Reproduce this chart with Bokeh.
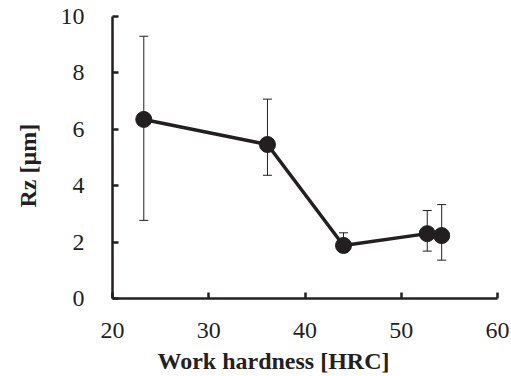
from bokeh.plotting import figure
from bokeh.models import ColumnDataSource, Whisker, TeeHead, Title, Range1d, FixedTicker
from bokeh.embed import file_html
from bokeh.resources import INLINE

hardness = [23.25, 36.1, 44.0, 52.7, 54.2]
rz = [6.35, 5.46, 1.88, 2.30, 2.23]
rz_upper = [9.30, 7.07, 2.33, 3.12, 3.33]
rz_lower = [2.77, 4.37, 1.64, 1.68, 1.36]
x_ticks = [20, 30, 40, 50, 60]
y_ticks = [0, 2, 4, 6, 8, 10]

FONT = "Liberation Serif"
INK = "#231f20"

src = ColumnDataSource(dict(x=hardness, y=rz, upper=rz_upper, lower=rz_lower))

p = figure(frame_width=385, frame_height=282, output_backend="svg", toolbar_location=None,
           x_range=Range1d(20, 60), y_range=Range1d(0, 10),
           min_border_left=111, min_border_right=12, min_border_top=16, min_border_bottom=70)
p.outline_line_color = None
p.grid.visible = False
p.background_fill_color = "white"
p.border_fill_color = "white"

for ax in (p.xaxis[0], p.yaxis[0]):
    ax.axis_line_width = 2.5
    ax.axis_line_color = INK
    ax.major_tick_in = 6
    ax.major_tick_out = 0
    ax.major_tick_line_width = 2.5
    ax.major_tick_line_color = INK
    ax.minor_tick_line_color = None
    ax.major_label_text_font = FONT
    ax.major_label_text_font_size = "24px"
    ax.major_label_text_color = INK

p.xaxis.ticker = FixedTicker(ticks=x_ticks)
p.yaxis.ticker = FixedTicker(ticks=y_ticks)
p.xaxis.major_label_standoff = 24
p.yaxis.major_label_standoff = 28

p.add_layout(Title(text="Rz [µm]", text_font=FONT, text_font_style="bold",
                   text_font_size="24px", text_color=INK, align="left", offset=91,
                   standoff=29, vertical_align="top"), "left")

p.add_layout(Title(text="Work hardness [HRC]", text_font=FONT, text_font_style="bold",
                   text_font_size="24px", text_color=INK, align="left", offset=45), "below")

w = Whisker(source=src, base="x", upper="upper", lower="lower", line_color=INK, line_width=1,
            upper_head=TeeHead(size=9, line_color=INK, line_width=1),
            lower_head=TeeHead(size=9, line_color=INK, line_width=1))
p.add_layout(w)

p.line("x", "y", source=src, line_width=3.5, line_color=INK)
p.scatter("x", "y", source=src, size=16, fill_color=INK, line_color=INK)

open("out.html", "w").write(file_html(p, INLINE))
